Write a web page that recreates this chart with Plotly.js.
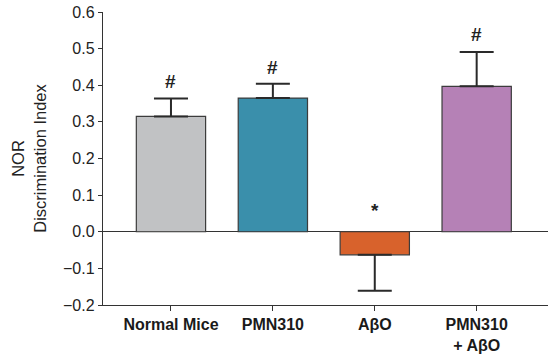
<!DOCTYPE html>
<html><head><meta charset="utf-8">
<script src="https://cdn.plot.ly/plotly-3.0.1.min.js"></script>
<style>html,body{margin:0;padding:0;background:#fff}#c{width:548px;height:360px}</style>
</head><body><div id="c"></div>
<script>
var categories = ["Normal Mice", "PMN310", "AβO", "PMN310 + AβO"];
var tickLabels = ["<b>Normal Mice</b>", "<b>PMN310</b>", "<b>AβO</b>", "<b>PMN310</b><br><b>+ AβO</b>"];
var values = [0.315, 0.365, -0.063, 0.397];
var errUp = [0.049, 0.039, 0, 0.094];
var errDown = [0, 0, 0.098, 0];
var colors = ["#c1c2c4", "#3a8fab", "#d8622c", "#b581b6"];
var marks = ["#", "#", "*", "#"];
var markY = [0.41, 0.448, 0.057, 0.538];

var x = [0, 1, 2, 3];
var trace = {
  type: "bar", x: x, y: values,
  marker: {color: colors, line: {color: "#3c3c3c", width: 1.2}},
  error_y: {type: "data", symmetric: false, array: errUp, arrayminus: errDown,
            color: "#2a2a2a", thickness: 2, width: 17},
  width: 0.68, hoverinfo: "none"
};
var annotations = marks.map(function(m, i){
  return {x: x[i], y: markY[i], xref: "x", yref: "y", text: "<b>" + m + "</b>", showarrow: false,
          font: {family: "Liberation Sans, Arial", size: 19, color: "#222"}};
});
var layout = {
  width: 548, height: 360,
  margin: {l: 103, r: 0, t: 12, b: 55},
  paper_bgcolor: "#fff", plot_bgcolor: "#fff",
  showlegend: false,
  font: {family: "Liberation Sans, Arial", color: "#222"},
  xaxis: {range: [-0.667, 3.7], tickvals: x, ticktext: tickLabels,
          showgrid: false, zeroline: false, showline: true, linecolor: "#333", linewidth: 1.2,
          ticks: "outside", ticklen: 5, tickcolor: "#333", tickwidth: 1,
          tickfont: {size: 16, color: "#1a1a1a", family: "Liberation Sans, Arial"}, fixedrange: true},
  yaxis: {range: [-0.2, 0.6], dtick: 0.1, tick0: 0, tickformat: ".1f",
          showgrid: false, zeroline: true, zerolinecolor: "#333", zerolinewidth: 1.2,
          showline: true, linecolor: "#333", linewidth: 1.2,
          ticks: "outside", ticklen: 4, tickcolor: "#333", tickwidth: 1,
          tickfont: {size: 16, color: "#222"},
          title: {text: "NOR<br>Discrimination Index", font: {size: 16.5, color: "#222"}, standoff: 12}},
  annotations: annotations
};
Plotly.newPlot("c", [trace], layout, {displayModeBar: false, staticPlot: true});
</script></body></html>
